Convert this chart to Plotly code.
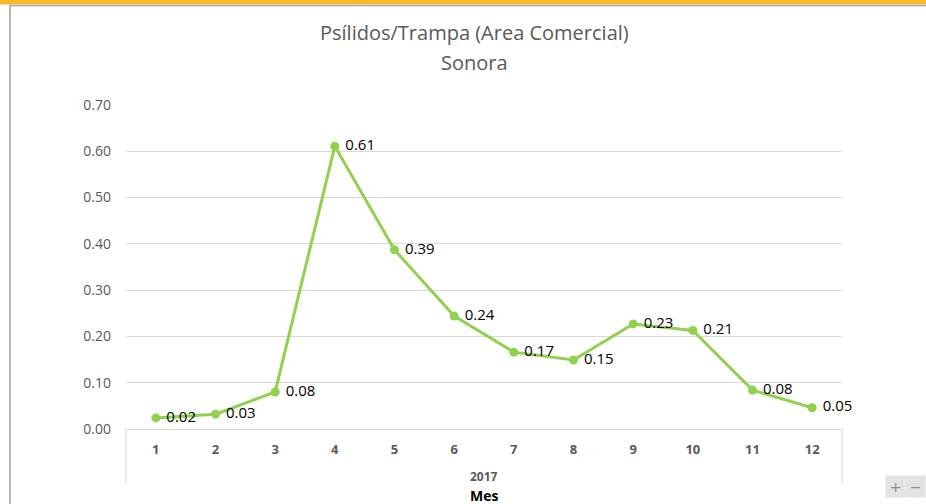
import plotly.graph_objects as go

meses = [1, 2, 3, 4, 5, 6, 7, 8, 9, 10, 11, 12]
valores = [0.024, 0.032, 0.080, 0.611, 0.387, 0.244, 0.166, 0.149, 0.227, 0.213, 0.084, 0.046]
y_ticks = [0.0, 0.1, 0.2, 0.3, 0.4, 0.5, 0.6, 0.7]
anio = "2017"
titulo = "Psílidos/Trampa (Area Comercial)"
subtitulo = "Sonora"

W, H = 926, 504
L, R, T, B = 126, 84, 105, 75
plot_h = H - T - B
plot_w = W - L - R


def px_x(x):
    return (x - L) / plot_w


def px_y(y):
    return (H - B - y) / plot_h


fig = go.Figure()
fig.add_trace(go.Scatter(
    x=meses, y=valores, mode="lines+markers+text",
    line=dict(color="#92D050", width=3),
    marker=dict(color="#92D050", size=9),
    text=["\u00a0" + f"{v:.2f}" for v in valores],
    textposition="middle right",
    textfont=dict(family="Open Sans", size=15, color="#000000"),
    cliponaxis=False, hoverinfo="skip", showlegend=False,
))

fig.update_layout(
    width=W, height=H,
    margin=dict(l=L, r=R, t=T, b=B),
    paper_bgcolor="white", plot_bgcolor="white",
    xaxis=dict(range=[0.5, 12.5], tickmode="array", tickvals=meses,
               ticktext=[f"<b>{m}</b>" for m in meses],
               tickfont=dict(family="Open Sans", size=13, color="#595959"),
               showgrid=False, zeroline=False, showline=True, linecolor="#D9D9D9",
               linewidth=1, ticks="", ticklabelstandoff=8, fixedrange=True),
    yaxis=dict(range=[0, 0.7], tickmode="array", tickvals=y_ticks,
               ticktext=[f"{v:.2f}" for v in y_ticks],
               tickfont=dict(family="Open Sans", size=14, color="#595959"),
               showgrid=True, gridcolor="#D9D9D9", gridwidth=1, zeroline=False,
               showline=False, ticks="", ticklabelstandoff=14, fixedrange=True),
)

# title lines
fig.add_annotation(text=titulo, xref="paper", yref="paper", x=px_x(474), y=px_y(33),
                   yanchor="middle", showarrow=False,
                   font=dict(family="Open Sans", size=20, color="#595959"))
fig.add_annotation(text=subtitulo, xref="paper", yref="paper", x=px_x(474), y=px_y(62),
                   yanchor="middle", showarrow=False,
                   font=dict(family="Open Sans", size=20, color="#595959"))

for xp in [0, 1]:
    fig.add_shape(type="line", xref="paper", yref="paper", x0=xp, x1=xp, y0=0, y1=px_y(484),
                  line=dict(color="#D9D9D9", width=1))

fig.add_annotation(text="<b>" + anio + "</b>", xref="paper", yref="paper", x=0.5,
                   y=px_y(476), yanchor="middle", showarrow=False,
                   font=dict(family="Open Sans", size=12, color="#595959"))
fig.add_annotation(text="<b>Mes</b>", xref="paper", yref="paper", x=0.5,
                   y=px_y(495), yanchor="middle", showarrow=False,
                   font=dict(family="Open Sans", size=14, color="#000000"))

# frame decorations
fig.add_shape(type="rect", xref="paper", yref="paper",
              x0=px_x(0), x1=px_x(W), y0=px_y(0), y1=px_y(4.5),
              fillcolor="#FDB827", line=dict(width=0), layer="above")
fig.add_shape(type="line", xref="paper", yref="paper",
              x0=px_x(9), x1=px_x(W), y0=px_y(5.5), y1=px_y(5.5),
              line=dict(color="#B5B5B5", width=2))
fig.add_shape(type="line", xref="paper", yref="paper",
              x0=px_x(10), x1=px_x(10), y0=px_y(5), y1=px_y(H),
              line=dict(color="#B5B5B5", width=2))

# zoom buttons
for i, sym in enumerate(["+", "−"]):
    x0 = 886 + i * 20
    fig.add_annotation(text=sym, xref="paper", yref="paper",
                       x=px_x(x0 + 9.5), y=px_y(486.5), xanchor="center", yanchor="middle",
                       width=19, height=21, bgcolor="#E3E3E3", borderpad=0,
                       showarrow=False, font=dict(family="DejaVu Sans", size=14, color="#8C8C8C"))

fig.write_html("out.html", config={"displayModeBar": False},
               post_script="document.body.style.margin='0';document.body.style.overflow='hidden';")
